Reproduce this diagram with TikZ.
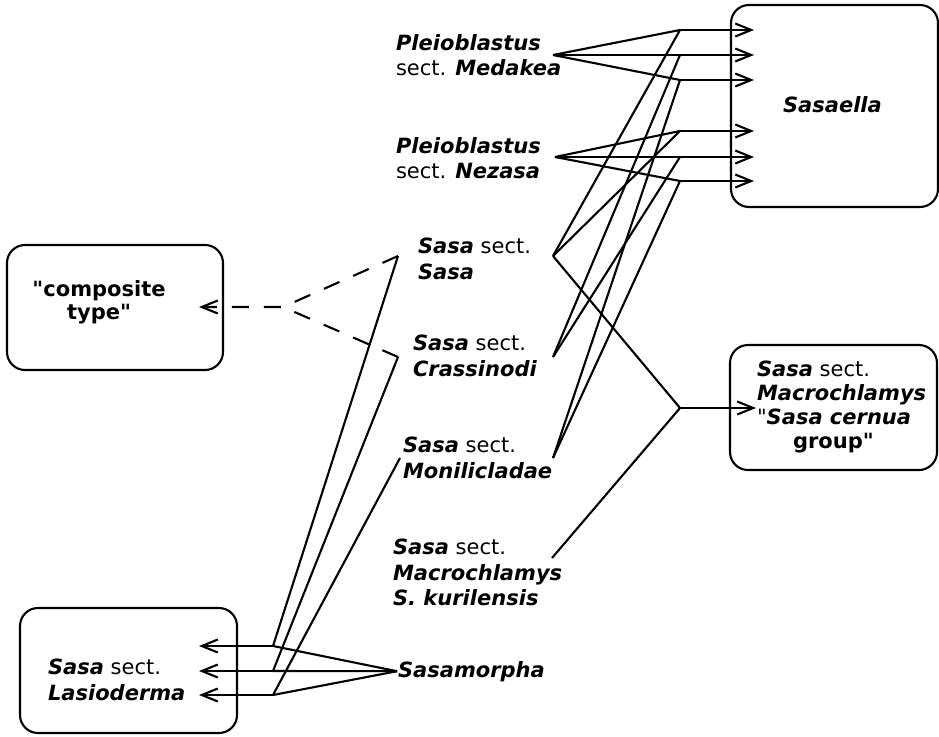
\documentclass[tikz,border=0pt]{standalone}
\usepackage{fontspec}
\newfontfamily\djv{DejaVu Sans}
\usetikzlibrary{arrows.meta}
\newcommand{\taxon}[1]{\textbf{\textit{#1}}}
\begin{document}
\begin{tikzpicture}[x=1pt,y=-1pt,line width=2.1pt,
  box/.style={draw,rounded corners=18pt,inner sep=0pt,line width=2.1pt},
  lbl/.style={inner sep=0pt,align=left,anchor=north west,font=\djv\fontsize{21}{25.5}\selectfont},
  arr/.style={-{Straight Barb[length=16pt,width=13pt]}},
  dsh/.style={dash pattern=on 17pt off 15pt}]
\useasboundingbox (0,0) rectangle (939,736);
% boxes
\node[box,minimum width=207pt,minimum height=202pt] (sasaellabox) at (834.5,106) {};
\node[box,minimum width=207pt,minimum height=125pt] (macrobox) at (833.5,407.5) {};
\node[box,minimum width=216pt,minimum height=125pt] (compbox) at (115,307.5) {};
\node[box,minimum width=217pt,minimum height=125pt] (lasiobox) at (128.5,670.5) {};
% texts
\node[lbl] (med) at (395,33) {\taxon{Pleioblastus}\\sect. \taxon{Medakea}};
\node[lbl] (nez) at (395,136) {\taxon{Pleioblastus}\\sect. \taxon{Nezasa}};
\node[lbl] (sasa) at (417,237) {\taxon{Sasa} sect.\\\taxon{Sasa}};
\node[lbl] (crass) at (412,334) {\taxon{Sasa} sect.\\\taxon{Crassinodi}};
\node[lbl] (moni) at (402,436) {\taxon{Sasa} sect.\\\taxon{Monilicladae}};
\node[lbl] (kuril) at (392,538) {\taxon{Sasa} sect.\\\taxon{Macrochlamys}\\\taxon{S. kurilensis}};
\node[lbl,anchor=base west] (morpha) at (397,677) {\taxon{Sasamorpha}};
\node[lbl,anchor=base west] (sasaella) at (782,112) {\taxon{Sasaella}};
\node[lbl,font=\djv\fontsize{21}{24}\selectfont] (macro) at (756,360) {\taxon{Sasa} sect.\\\taxon{Macrochlamys}\\"\taxon{Sasa cernua}\\\hspace*{36pt}\textbf{group"}};
\node[lbl,align=center,anchor=north,font=\djv\fontsize{21}{23.5}\selectfont] (comp) at (99,279) {\textbf{"composite}\\\textbf{type"}};
\node[lbl] (lasio) at (47,658) {\taxon{Sasa} sect.\\\taxon{Lasioderma}};
% junction coordinates
\coordinate (medR) at (553,55);
\coordinate (nezR) at (555,157);
\coordinate (m1) at (680,30);
\coordinate (m2) at (680,55);
\coordinate (m3) at (680,80);
\coordinate (n1) at (680,131);
\coordinate (n2) at (680,157);
\coordinate (n3) at (680,181);
\coordinate (sTip) at (754,0);
\coordinate (sasaR) at (553,256);
\coordinate (crassR) at (553,357);
\coordinate (moniR) at (553,458);
\coordinate (sasaL) at (398,256);
\coordinate (crassL) at (398,357);
\coordinate (moniL) at (400,458);
\coordinate (kurilR) at (552,558);
\coordinate (jm) at (680,408);
\coordinate (mTip) at (756,0);
\coordinate (jc) at (283,307);
\coordinate (cTip) at (199,0);
\coordinate (b1) at (273,646);
\coordinate (b2) at (273,671);
\coordinate (b3) at (273,695);
\coordinate (lTip) at (199,0);
% Pleioblastus -> Sasaella
\foreach \p in {m1,m2,m3}{\draw (medR) -- (\p); \draw[arr] (\p) -- (\p -| sTip);}
\foreach \p in {n1,n2,n3}{\draw (nezR) -- (\p); \draw[arr] (\p) -- (\p -| sTip);}
% Sasa sections -> Sasaella
\draw (sasaR) -- (m1);
\draw (sasaR) -- (n1);
\draw (crassR) -- (m2);
\draw (crassR) -- (n2);
\draw (moniR) -- (m3);
\draw (moniR) -- (n3);
% -> Macrochlamys cernua group
\draw (sasaR) -- (jm) -- (kurilR);
\draw[arr] (jm) -- (jm -| mTip);
% composite type
\draw[dsh,arr] (sasaL) -- (jc) -- (jc -| cTip);
\draw[dsh] (crassL) -- (jc);
% -> Lasioderma
\draw (sasaL) -- (b1);
\draw (crassL) -- (b2);
\draw (moniL) -- (b3);
\foreach \p in {b1,b2,b3}{\draw (morpha.west) -- (\p); \draw[arr] (\p) -- (\p -| lTip);}
\end{tikzpicture}
\end{document}
